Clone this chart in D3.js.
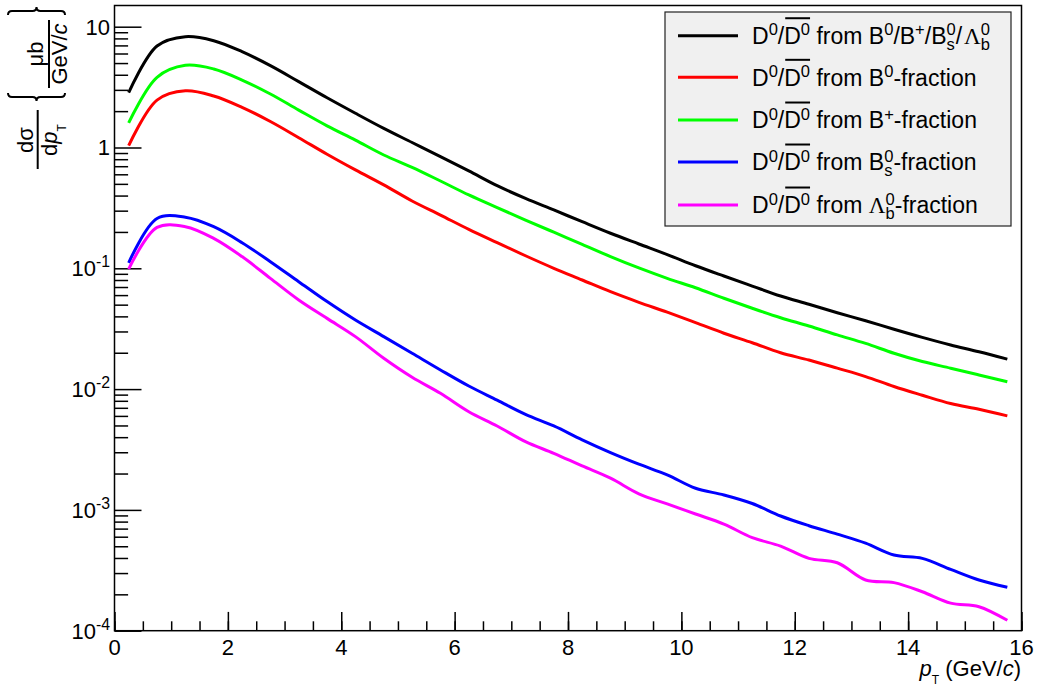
<!DOCTYPE html>
<html>
<head>
<meta charset="utf-8">
<script src="https://cdn.jsdelivr.net/npm/d3@7"></script>
<style>
  html, body { margin: 0; padding: 0; background: #fff; }
  svg { display: block; font-family: "Liberation Sans", Arial, Helvetica, sans-serif; }
</style>
</head>
<body>
<svg id="chart" width="1038" height="687"></svg>
<script>
// Bin centres in pT (GeV/c), 0.5 GeV/c bins
const ptBins = [0.25, 0.75, 1.25, 1.75, 2.25, 2.75, 3.25, 3.75, 4.25, 4.75, 5.25, 5.75,
  6.25, 6.75, 7.25, 7.75, 8.25, 8.75, 9.25, 9.75, 10.25, 10.75, 11.25, 11.75,
  12.25, 12.75, 13.25, 13.75, 14.25, 14.75, 15.25, 15.75];

// dsigma/dpT in microbarn/(GeV/c)
const fromAllB = [2.84, 6.92, 8.27, 7.66, 6.21, 4.76, 3.51, 2.58, 1.92, 1.44, 1.10, 0.84,
  0.64, 0.483, 0.379, 0.304, 0.243, 0.195, 0.159, 0.130, 0.105, 0.0863, 0.0713, 0.059,
  0.0504, 0.0429, 0.0368, 0.0313, 0.0268, 0.0232, 0.0204, 0.0177];
const fromB0 = [1.035, 2.47, 2.95, 2.67, 2.15, 1.64, 1.205, 0.879, 0.652, 0.49, 0.361, 0.276,
  0.21, 0.163, 0.127, 0.100, 0.080, 0.064, 0.0523, 0.0433, 0.0355, 0.029, 0.0242, 0.020,
  0.0174, 0.0149, 0.0127, 0.0105, 0.0089, 0.0076, 0.0068, 0.0060];
const fromBplus = [1.60, 3.81, 4.79, 4.47, 3.62, 2.77, 2.04, 1.51, 1.15, 0.867, 0.685, 0.528,
  0.405, 0.318, 0.251, 0.199, 0.158, 0.125, 0.1007, 0.0826, 0.069, 0.0565, 0.0467, 0.039,
  0.0333, 0.0281, 0.0239, 0.0198, 0.0169, 0.0149, 0.0131, 0.0115];
const fromBs = [0.111, 0.258, 0.265, 0.221, 0.163, 0.1135, 0.0775, 0.053, 0.0373, 0.0272, 0.0198, 0.0144,
  0.0106, 0.0081, 0.00618, 0.00495, 0.0038, 0.00298, 0.00239, 0.00195, 0.00151, 0.00133, 0.00113, 0.00089,
  0.00074, 0.00063, 0.00053, 0.000423, 0.000397, 0.000322, 0.000263, 0.000229];
const fromLb = [0.0986, 0.218, 0.221, 0.177, 0.125, 0.0826, 0.0547, 0.0385, 0.0272, 0.018, 0.01253, 0.00923,
  0.0065, 0.00495, 0.00367, 0.00294, 0.00231, 0.00183, 0.00136, 0.00112, 0.000925, 0.000764, 0.000589, 0.000502,
  0.000397, 0.000365, 0.000263, 0.00025, 0.00021, 0.000169, 0.000158, 0.000122];

const seriesColors = ["#000000", "#ff0000", "#00ff00", "#0000ff", "#ff00ff"];

const xMajorTicks = [0, 2, 4, 6, 8, 10, 12, 14, 16];
const yMajorTicks = [1e-4, 1e-3, 1e-2, 1e-1, 1, 10];
const yTickExponents = [-4, -3, -2, -1, 0, 1];

const svg = d3.select("#chart");
const frame = { left: 114.5, right: 1021.5, top: 5.5, bottom: 630.7 };

const x = d3.scaleLinear().domain([0, 16]).range([frame.left, frame.right]);
const y = d3.scaleLog().domain([1e-4, Math.pow(10, 1.1755)]).range([frame.bottom, frame.top]);

// Text with super/subscripts, overlines and mixed fonts, laid out piece by piece
function rich(parent, px0, py0, pieces, fs, anchor) {
  const g = parent.append("g");
  let cx = 0, lastStart = 0;
  const over = [];
  pieces.forEach(p => {
    const s = p.s || 1;
    const px = p.stack ? lastStart : cx + (p.dx || 0) * fs;
    const t = g.append("text")
      .attr("x", px).attr("y", (p.dy || 0) * fs)
      .attr("font-size", fs * s)
      .attr("fill", "#000")
      .style("white-space", "pre")
      .text(p.t);
    if (p.it) t.attr("font-style", "italic");
    if (p.font) t.attr("font-family", p.font);
    const w = t.node().getComputedTextLength();
    if (p.stack) cx = Math.max(cx, px + w);
    else { lastStart = px; cx = px + w; }
    if (p.ov) over.push([px, px + w]);
  });
  if (over.length) {
    const x0 = d3.min(over, d => d[0]), x1 = d3.max(over, d => d[1]);
    g.append("line").attr("x1", x0 + 1).attr("x2", x1).attr("y1", -1.12 * fs).attr("y2", -1.12 * fs)
      .attr("stroke", "#000").attr("stroke-width", 2);
  }
  const shift = anchor === "end" ? -cx : anchor === "middle" ? -cx / 2 : 0;
  g.attr("transform", `translate(${px0 + shift},${py0})`);
  return g;
}

const SUP = { s: 0.72, dy: -0.37 };
const SUB = { s: 0.72, dy: 0.27 };

// ---- axes ticks (drawn inward)
const yMinorTicks = [];
yMajorTicks.forEach(m => { for (let k = 2; k <= 9; k++) { const v = m * k; if (v <= y.domain()[1]) yMinorTicks.push(v); } });
const xMinorTicks = [];
for (let i = 0; i <= 32; i++) xMinorTicks.push(i * 0.5);

function tickAxis(axis, tx, ty) {
  const g = svg.append("g").attr("transform", `translate(${tx},${ty})`).call(axis);
  g.select(".domain").remove();
  g.selectAll("text").remove();
  g.selectAll("line").attr("stroke", "#000").attr("stroke-width", 1.5);
  return g;
}
tickAxis(d3.axisRight(y).tickValues(yMinorTicks).tickSize(13.6).tickFormat(""), frame.left, 0);
tickAxis(d3.axisRight(y).tickValues(yMajorTicks).tickSize(27).tickFormat(""), frame.left, 0);
tickAxis(d3.axisTop(x).tickValues(xMinorTicks).tickSize(9.4).tickFormat(""), 0, frame.bottom);
tickAxis(d3.axisTop(x).tickValues(xMajorTicks).tickSize(18.8).tickFormat(""), 0, frame.bottom);

// ---- tick labels
const labelFs = 22;
yMajorTicks.forEach((v, i) => {
  const e = yTickExponents[i];
  const pieces = e === 1 ? [{ t: "10" }] : e === 0 ? [{ t: "1" }] :
    [{ t: "10" }, { t: String(e), s: 0.72, dy: -0.4 }];
  rich(svg, 110, y(v) + 0.36 * labelFs, pieces, labelFs, "end");
});
xMajorTicks.forEach(v => {
  rich(svg, x(v), 655, [{ t: String(v) }], labelFs, "middle");
});

// ---- curves
const allSeries = [fromAllB, fromB0, fromBplus, fromBs, fromLb];
const line = d3.line().x(d => x(d[0])).y(d => y(d[1])).curve(d3.curveCatmullRom.alpha(0.5));
const plot = svg.append("g");
allSeries.forEach((vals, i) => {
  plot.append("path")
    .datum(ptBins.map((p, j) => [p, vals[j]]))
    .attr("d", line)
    .attr("fill", "none")
    .attr("stroke", seriesColors[i])
    .attr("stroke-width", 3)
    .attr("stroke-linejoin", "round");
});

// ---- frame
svg.append("rect")
  .attr("x", frame.left).attr("y", frame.top)
  .attr("width", frame.right - frame.left).attr("height", frame.bottom - frame.top)
  .attr("fill", "none").attr("stroke", "#000").attr("stroke-width", 1.5);

// ---- x axis title
rich(svg, 1021, 675.5, [
  { t: "p", it: 1 }, { t: "T", s: 0.55, dy: 0.38 }, { t: " (GeV/" }, { t: "c", it: 1 }, { t: ")" }
], 22, "end");

// ---- y axis title (rotated): dsigma/dpT {mub/(GeV/c)}
const yt = svg.append("g").attr("transform", "rotate(-90)");
const tfs = 22;
rich(yt, -140, 33, [{ t: "d" }, { t: "σ" }], tfs, "middle");
yt.append("line").attr("x1", -169).attr("x2", -110).attr("y1", 37.7).attr("y2", 37.7)
  .attr("stroke", "#000").attr("stroke-width", 2);
rich(yt, -140, 56.5, [{ t: "d" }, { t: "p", it: 1 }, { t: "T", s: 0.55, dy: 0.45 }], tfs, "middle");
rich(yt, -54, 43, [{ t: "μ" }, { t: "b" }], tfs, "middle");
yt.append("line").attr("x1", -88).attr("x2", -20).attr("y1", 49).attr("y2", 49)
  .attr("stroke", "#000").attr("stroke-width", 2);
rich(yt, -54, 67, [{ t: "GeV/" }, { t: "c", it: 1 }], tfs, "middle");

function bracePath(x0, x1, yb, dir, q) {
  const xm = (x0 + x1) / 2;
  return `M${x0},${yb - dir * q} Q${x0},${yb} ${x0 + q},${yb} L${xm - q},${yb} ` +
    `Q${xm},${yb} ${xm},${yb + dir * q} Q${xm},${yb} ${xm + q},${yb} L${x1 - q},${yb} Q${x1},${yb} ${x1},${yb - dir * q}`;
}
svg.append("path").attr("d", bracePath(8, 65, 97, 1, 4))
  .attr("fill", "none").attr("stroke", "#000").attr("stroke-width", 2);
svg.append("path").attr("d", bracePath(8, 65, 11, -1, 4))
  .attr("fill", "none").attr("stroke", "#000").attr("stroke-width", 2);

// ---- legend
const legend = svg.append("g");
legend.append("rect").attr("x", 665).attr("y", 12).attr("width", 346).attr("height", 214)
  .attr("fill", "#f0f0f0").attr("stroke", "#222").attr("stroke-width", 1.2);
const lfs = 23;
const lam = { t: "Λ", font: "Liberation Serif, DejaVu Serif, serif" };
const pairD = [
  { t: "D" }, Object.assign({ t: "0" }, SUP), { t: "/" },
  { t: "D", ov: 1 }, Object.assign({ t: "0", ov: 1 }, SUP), { t: " from " }
];
const legendLabels = [
  pairD.concat([{ t: "B" }, Object.assign({ t: "0" }, SUP), { t: "/B" }, Object.assign({ t: "+" }, SUP),
    { t: "/B" }, Object.assign({ t: "0" }, SUP), Object.assign({ t: "s", stack: 1 }, SUB), { t: "/" },
    Object.assign({}, lam, { dx: 0.08 }), Object.assign({ t: "0" }, SUP), Object.assign({ t: "b", stack: 1 }, SUB)]),
  pairD.concat([{ t: "B" }, Object.assign({ t: "0" }, SUP), { t: "-fraction" }]),
  pairD.concat([{ t: "B" }, Object.assign({ t: "+" }, SUP), { t: "-fraction" }]),
  pairD.concat([{ t: "B" }, Object.assign({ t: "0" }, SUP), Object.assign({ t: "s", stack: 1 }, SUB), { t: "-fraction" }]),
  pairD.concat([lam, Object.assign({ t: "0" }, SUP), Object.assign({ t: "b", stack: 1 }, SUB), { t: "-fraction" }])
];
const rowY = [35.7, 77.3, 120, 162, 205];
legendLabels.forEach((pieces, i) => {
  legend.append("line").attr("x1", 678).attr("x2", 738).attr("y1", rowY[i]).attr("y2", rowY[i])
    .attr("stroke", seriesColors[i]).attr("stroke-width", 3);
  rich(legend, 752, rowY[i] + 0.36 * lfs, pieces, lfs, "start");
});
</script>
</body>
</html>
